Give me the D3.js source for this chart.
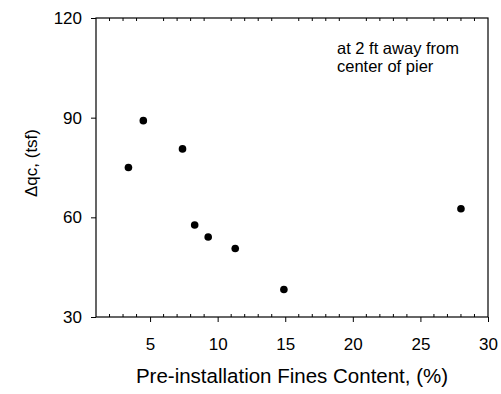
<!DOCTYPE html>
<html>
<head>
<meta charset="utf-8">
<script src="https://cdn.jsdelivr.net/npm/d3@7"></script>
<style>
  body { margin: 0; background: #fff; }
  svg { font-family: "Liberation Sans", Arial, sans-serif; }
</style>
</head>
<body>
<div id="chart"></div>
<script>
// data
const finesContent = [3.4, 4.5, 7.4, 8.3, 9.3, 11.3, 14.9, 28.0];
const deltaQc = [75.0, 89.1, 80.6, 57.7, 54.1, 50.6, 38.3, 62.6];
const xTicks = [5, 10, 15, 20, 25, 30];
const yTicks = [30, 60, 90, 120];
const xMinor = d3.range(2, 30).filter(v => v % 5 !== 0);
const noteLines = ["at 2 ft away from", "center of pier"];

const points = finesContent.map((x, i) => ({x: x, y: deltaQc[i]}));

const svg = d3.select("#chart").append("svg")
  .attr("width", 501)
  .attr("height", 394);

const margin = {top: 18, right: 13, bottom: 77, left: 96};
const width = 501 - margin.left - margin.right;
const height = 394 - margin.top - margin.bottom;

const g = svg.append("g").attr("transform", `translate(${margin.left},${margin.top})`);

const x = d3.scaleLinear().domain([1, 30]).range([0, width]);
const y = d3.scaleLinear().domain([30, 120]).range([height, 0]);

// frame
g.append("rect")
  .attr("width", width)
  .attr("height", height)
  .attr("fill", "none")
  .attr("stroke", "#000")
  .attr("stroke-width", 1.2);

// bottom axis: major ticks outside
const xAxis = g.append("g")
  .attr("transform", `translate(0,${height})`)
  .call(d3.axisBottom(x).tickValues(xTicks).tickSize(5).tickPadding(16));
xAxis.select(".domain").remove();
xAxis.selectAll("text").style("font-size", "17px").attr("fill", "#000");

// minor ticks inside, bottom and top
g.selectAll(".minor-b")
  .data(xMinor)
  .enter()
  .append("line")
  .attr("x1", d => x(d)).attr("x2", d => x(d))
  .attr("y1", height).attr("y2", height - 3)
  .attr("stroke", "#000");

g.selectAll(".minor-t")
  .data(xMinor)
  .enter()
  .append("line")
  .attr("x1", d => x(d)).attr("x2", d => x(d))
  .attr("y1", 0).attr("y2", 3)
  .attr("stroke", "#000");

const yAxis = g.append("g")
  .call(d3.axisLeft(y).tickValues(yTicks).tickSize(5).tickPadding(9));
yAxis.select(".domain").remove();
yAxis.selectAll("text").style("font-size", "17px").attr("fill", "#000");

g.selectAll("circle")
  .data(points)
  .enter()
  .append("circle")
  .attr("cx", d => x(d.x))
  .attr("cy", d => y(d.y))
  .attr("r", 3.8)
  .attr("fill", "#000");

// note
g.append("text")
  .attr("x", 241)
  .attr("y", 35.5)
  .style("font-size", "16.5px")
  .selectAll("tspan")
  .data(noteLines)
  .enter()
  .append("tspan")
  .attr("x", 241)
  .attr("dy", (d, i) => i === 0 ? 0 : 18)
  .text(d => d);

// Label X
svg.append("text")
  .attr("x", 292)
  .attr("y", 383)
  .attr("text-anchor", "middle")
  .style("font-size", "20.5px")
  .text("Pre-installation Fines Content, (%)");

// Label Y
svg.append("text")
  .attr("transform", "rotate(-90)")
  .attr("x", -163)
  .attr("y", 37)
  .attr("text-anchor", "middle")
  .style("font-size", "17px")
  .text("Δqc, (tsf)");
</script>
</body>
</html>
